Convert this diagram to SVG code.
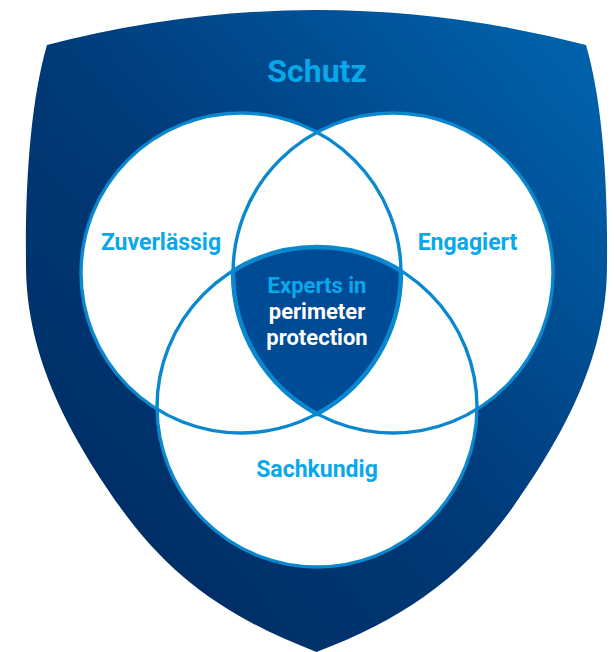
<svg xmlns="http://www.w3.org/2000/svg" width="614" height="652" viewBox="0 0 614 652">
  <defs>
    <linearGradient id="shieldGrad" gradientUnits="userSpaceOnUse" x1="100" y1="560" x2="600" y2="100">
      <stop offset="0" stop-color="#002d64"/>
      <stop offset="0.45" stop-color="#003a78"/>
      <stop offset="1" stop-color="#0060aa"/>
    </linearGradient>
  </defs>
  <style>
    .circle-fill { fill: #ffffff; stroke: none; }
    .circle-line { fill: none; stroke: #0a88cf; stroke-width: 3.4; }
    .label { font-family: Roboto, "Liberation Sans", sans-serif; font-weight: bold; text-anchor: middle; fill: #08a8ea; }
    .white { fill: #ffffff; }
  </style>
  <g id="shield">
    <path d="M47,45 Q316.5,-25 586,45 C602,100 608,180 607,265 C607,360 560,440 513,507 C461,580 400,620 316.5,652 C233,620 172,580 120,507 C73,440 26,360 26,265 C25,180 31,100 47,45 Z" fill="url(#shieldGrad)"/>
    <text class="label" x="317" y="82" font-size="32">Schutz</text>
  </g>
  <g id="circle-fills">
    <circle class="circle-fill" cx="241" cy="273" r="160"/>
    <circle class="circle-fill" cx="393" cy="273" r="160"/>
    <circle class="circle-fill" cx="317" cy="407" r="160"/>
  </g>
  <g id="center">
    <path d="M233.1,270.8 A160,160 0 0 1 400.9,270.8 A160,160 0 0 1 317,414 A160,160 0 0 1 233.1,270.8 Z" fill="#004b95" stroke="#0a88cf" stroke-width="4.5"/>
  </g>
  <g id="circle-lines">
    <circle class="circle-line" cx="241" cy="273" r="160"/>
    <circle class="circle-line" cx="393" cy="273" r="160"/>
    <circle class="circle-line" cx="317" cy="407" r="160"/>
  </g>
  <g id="zuverlaessig">
    <text class="label" x="161" y="250" font-size="23">Zuverlässig</text>
  </g>
  <g id="engagiert">
    <text class="label" x="467.5" y="250" font-size="23">Engagiert</text>
  </g>
  <g id="sachkundig">
    <text class="label" x="317" y="477" font-size="23">Sachkundig</text>
  </g>
  <g id="experts">
    <text class="label" x="317" y="293" font-size="22">Experts in</text>
    <text class="label white" x="317" y="319" font-size="22">perimeter</text>
    <text class="label white" x="317" y="345" font-size="22">protection</text>
  </g>
</svg>
